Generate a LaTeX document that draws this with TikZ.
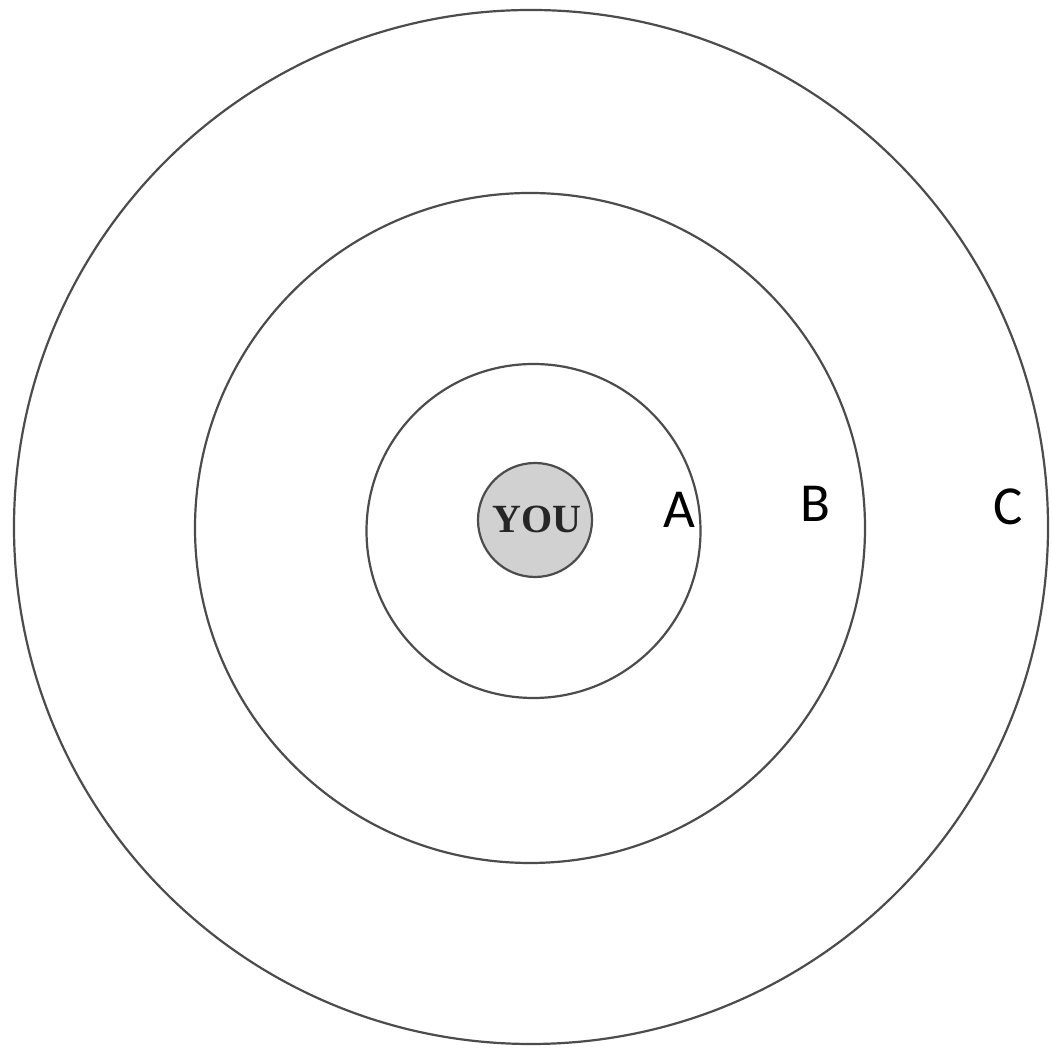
\documentclass[tikz,border=0pt]{standalone}
\usepackage{fontspec}
\newfontfamily\labelfont{Carlito}
\newfontfamily\youfont{Liberation Serif}
\begin{document}
\begin{tikzpicture}[x=1pt,y=1pt,
  ring/.style={circle, draw=black!70, line width=2.2pt, inner sep=0pt},
  lbl/.style={font=\labelfont\fontsize{55}{55}\selectfont, anchor=base, inner sep=0pt}]
\useasboundingbox (0,0) rectangle (1052,1048);
\fill[white] (0,0) rectangle (1052,1048);
\node[ring, minimum size=1034pt] (outer) at (531,521) {};
\node[ring, minimum size=670pt] (middle) at (530,520) {};
\node[ring, minimum size=334pt] (inner) at (533.5,517) {};
\node[ring, fill=black!18, minimum size=114pt] (you) at (535,528) {};
\node[anchor=base, inner sep=0pt, font=\youfont\bfseries\fontsize{40}{40}\selectfont, text=black!85] (youtext) at (537,515) {YOU};
\node[lbl] (A) at (679,520) {A};
\node[lbl] (B) at (815,526) {B};
\node[lbl] (C) at (1008,523) {C};
\end{tikzpicture}
\end{document}
